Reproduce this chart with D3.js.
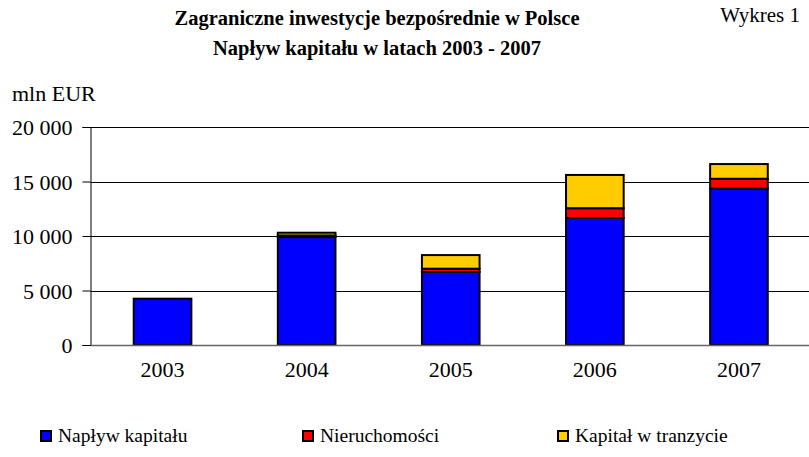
<!DOCTYPE html>
<html>
<head>
<meta charset="utf-8">
<script src="https://cdn.jsdelivr.net/npm/d3@7"></script>
<style>
  body { margin: 0; background: #fff; }
</style>
</head>
<body>
<svg id="chart" width="809" height="457"></svg>
<script>
const years = ["2003", "2004", "2005", "2006", "2007"];
const inflow = [4250, 9900, 6700, 11650, 14350];
const realEstate = [0, 150, 300, 900, 900];
const transit = [0, 250, 1250, 3050, 1350];
const yTicks = [0, 5000, 10000, 15000, 20000];
const seriesNames = ["Napływ kapitału", "Nieruchomości", "Kapitał w tranzycie"];
const seriesColors = ["#0000ff", "#ff0000", "#ffcc00"];

const FONT = '"Liberation Serif", "Times New Roman", serif';
const svg = d3.select("#chart").style("font-family", FONT);

const plotLeft = 90.5, plotRight = 811, plotTop = 127, plotBottom = 345;

const xScale = d3.scaleBand().domain(years).range([plotLeft, plotRight])
    .paddingInner(0.6).paddingOuter(0.3);
const yScale = d3.scaleLinear().domain([0, 20000]).range([plotBottom, plotTop]);

// table for the stack
const table = years.map((y, i) => ({
    year: y,
    "Napływ kapitału": inflow[i],
    "Nieruchomości": realEstate[i],
    "Kapitał w tranzycie": transit[i]
}));
const stacked = d3.stack().keys(seriesNames)(table);

// gridlines
svg.append("g")
    .selectAll("line")
    .data(yTicks.slice(1))
    .enter().append("line")
    .attr("x1", plotLeft)
    .attr("x2", plotRight)
    .attr("y1", d => Math.round(yScale(d)) + 0.5)
    .attr("y2", d => Math.round(yScale(d)) + 0.5)
    .attr("stroke", "#000")
    .attr("stroke-width", 1);

// y axis
const yAxis = svg.append("g")
    .attr("transform", `translate(${plotLeft}, 0)`)
    .call(d3.axisLeft(yScale).tickValues(yTicks).tickSizeOuter(0).tickSize(8).tickPadding(10)
        .tickFormat(d => d3.format(",")(d).replace(/,/g, " ")));
yAxis.attr("font-family", null);
yAxis.select(".domain").attr("stroke", "#000");
yAxis.selectAll("line").attr("stroke", "#000");
yAxis.selectAll("text")
    .style("font-family", FONT).style("font-size", "22px")
    .attr("dy", "0.35em").attr("fill", "#000");

// bars
svg.append("g")
    .selectAll("g")
    .data(stacked)
    .enter().append("g")
    .attr("fill", (d, i) => seriesColors[i])
    .selectAll("rect")
    .data(d => d.filter(s => s[1] - s[0] > 0))
    .enter().append("rect")
    .attr("x", d => xScale(d.data.year))
    .attr("y", d => yScale(d[1]))
    .attr("width", xScale.bandwidth())
    .attr("height", d => yScale(d[0]) - yScale(d[1]))
    .attr("stroke", "#000")
    .attr("stroke-width", 2);

// x axis
const xAxis = svg.append("g")
    .attr("transform", `translate(0, ${plotBottom})`)
    .call(d3.axisBottom(xScale).tickSize(0).tickPadding(16));
xAxis.attr("font-family", null);
xAxis.select(".domain").attr("stroke", "#666").attr("stroke-width", 1.5);
xAxis.selectAll("text")
    .style("font-family", FONT).style("font-size", "22px").attr("fill", "#000");

// titles
svg.append("text")
    .attr("x", 377).attr("y", 25)
    .attr("text-anchor", "middle")
    .style("font-family", FONT).style("font-size", "20.5px").style("font-weight", "bold")
    .text("Zagraniczne inwestycje bezpośrednie w Polsce");
svg.append("text")
    .attr("x", 377).attr("y", 55)
    .attr("text-anchor", "middle")
    .style("font-family", FONT).style("font-size", "20.5px").style("font-weight", "bold")
    .text("Napływ kapitału w latach 2003 - 2007");
svg.append("text")
    .attr("x", 800).attr("y", 22)
    .attr("text-anchor", "end")
    .style("font-family", FONT).style("font-size", "21px")
    .text("Wykres 1");
svg.append("text")
    .attr("x", 12).attr("y", 101)
    .style("font-family", FONT).style("font-size", "22px")
    .text("mln EUR");

// legend
const legendX = [40, 302, 557];
const legend = svg.append("g")
    .selectAll("g")
    .data(seriesNames)
    .enter().append("g")
    .attr("transform", (d, i) => `translate(${legendX[i]}, 442)`);
legend.append("rect")
    .attr("x", 1).attr("y", -11)
    .attr("width", 10).attr("height", 10)
    .attr("fill", (d, i) => seriesColors[i])
    .attr("stroke", "#000").attr("stroke-width", 2);
legend.append("text")
    .attr("x", 18).attr("y", 0)
    .style("font-family", FONT).style("font-size", "19.5px")
    .text(d => d);
</script>
</body>
</html>
